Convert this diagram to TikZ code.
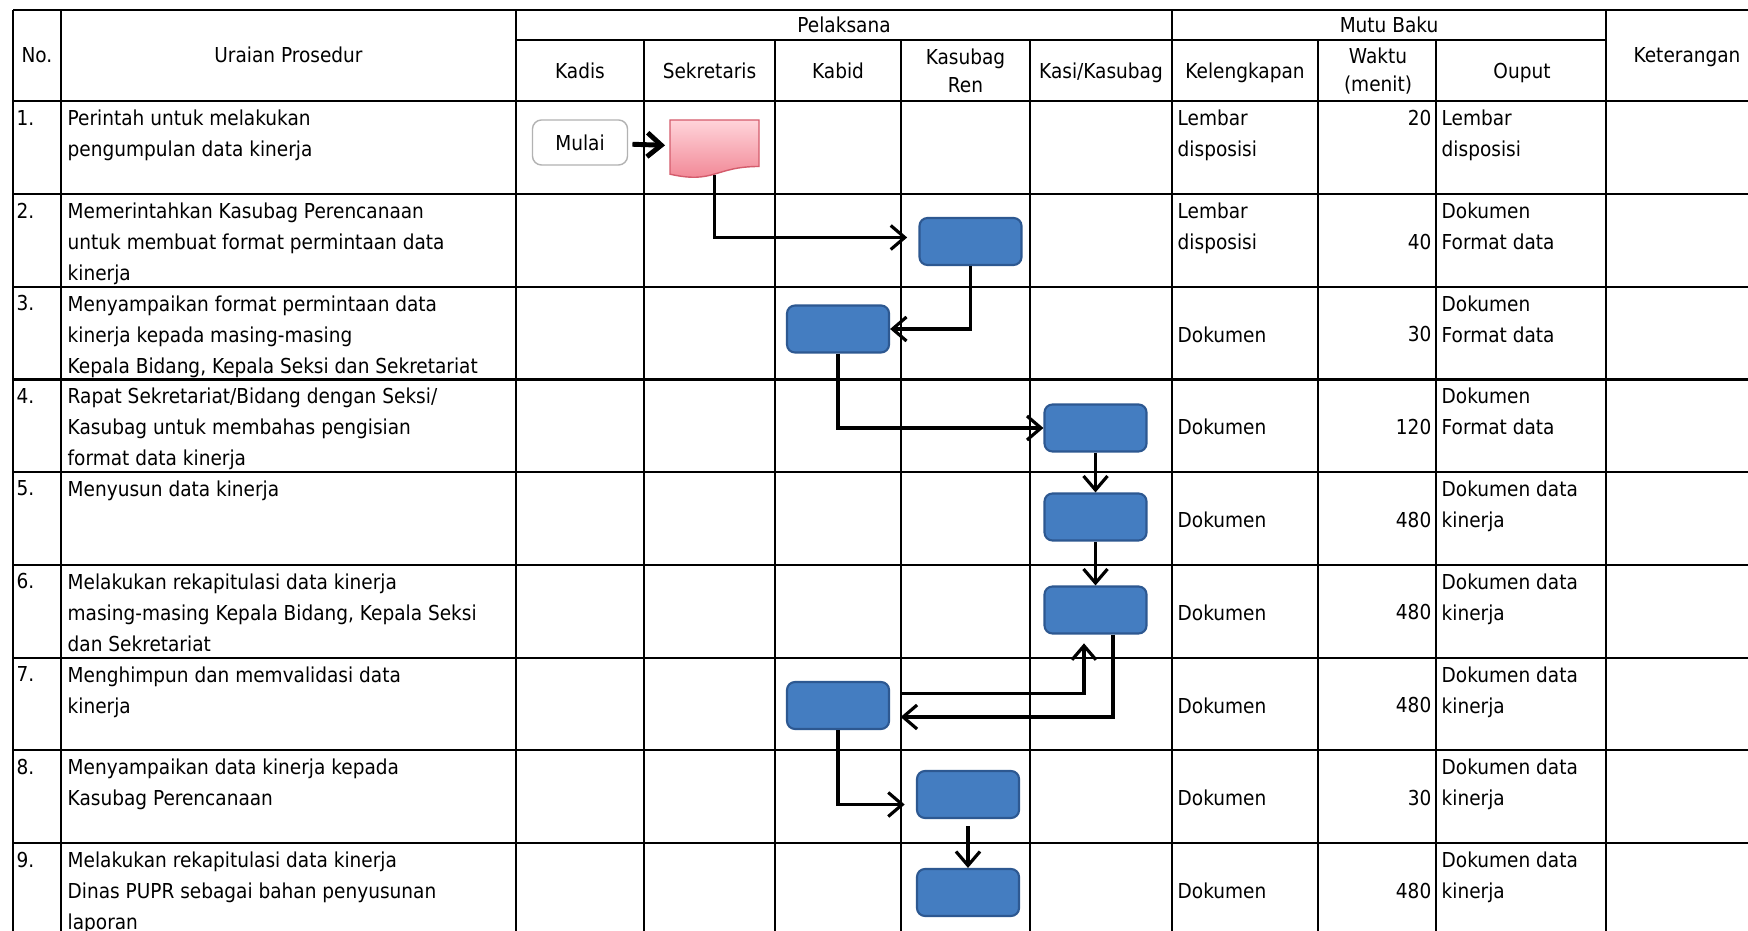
\documentclass[tikz,border=0pt]{standalone}
\usepackage{fontspec}
\setmainfont[FakeStretch=0.9]{DejaVu Sans}
\usetikzlibrary{arrows.meta}
\definecolor{kotakbiru}{RGB}{68,125,193}
\definecolor{tepibiru}{RGB}{45,88,145}
\definecolor{pinkatas}{RGB}{255,212,218}
\definecolor{pinkbawah}{RGB}{240,128,143}
\definecolor{tepipink}{RGB}{212,92,108}

\tikzset{
  isi/.style={anchor=north west,inner sep=0pt,align=left,yshift=2.25pt,
    font=\fontsize{5.85}{8.82}\selectfont},
  angka/.style={isi,anchor=north east,align=right},
  judul/.style={inner sep=0pt,align=center,font=\fontsize{5.85}{8}\selectfont},
  proses/.style={draw=tepibiru,fill=kotakbiru,line width=0.6pt,rounded corners=0.8mm,
    minimum width=1.02cm,minimum height=0.47cm},
  panah/.style={line width=0.9pt,-{Straight Barb[length=1.4mm,width=2.4mm]}},
}

\begin{document}
\begin{tikzpicture}[x=0.01cm,y=-0.01cm]
        \useasboundingbox[fill=white] (0,0) rectangle (1748,931);
        % garis tabel
        \draw[line width=0.6pt] (13,10) -- (1748,10);
        \draw[line width=0.6pt] (516,40) -- (1606,40);
        \draw[line width=0.6pt] (13,101.4) -- (1748,101.4);
        \draw[line width=0.6pt] (13,194.1) -- (1748,194.1);
        \draw[line width=0.6pt] (13,286.8) -- (1748,286.8);
        \draw[line width=0.6pt] (13,379.5) -- (1748,379.5);
        \draw[line width=0.6pt] (13,472.2) -- (1748,472.2);
        \draw[line width=0.6pt] (13,564.9) -- (1748,564.9);
        \draw[line width=0.6pt] (13,657.6) -- (1748,657.6);
        \draw[line width=0.6pt] (13,750.3) -- (1748,750.3);
        \draw[line width=0.6pt] (13,843.0) -- (1748,843.0);
        \draw[line width=0.6pt] (13,10) -- (13,931);
        \draw[line width=0.6pt] (61,10) -- (61,931);
        \draw[line width=0.6pt] (516,10) -- (516,931);
        \draw[line width=0.6pt] (644,40) -- (644,931);
        \draw[line width=0.6pt] (775,40) -- (775,931);
        \draw[line width=0.6pt] (901,40) -- (901,931);
        \draw[line width=0.6pt] (1030,40) -- (1030,931);
        \draw[line width=0.6pt] (1172,10) -- (1172,931);
        \draw[line width=0.6pt] (1318,40) -- (1318,931);
        \draw[line width=0.6pt] (1436,40) -- (1436,931);
        \draw[line width=0.6pt] (1606,10) -- (1606,931);

        % kepala tabel
        \node[judul,anchor=base] (no) at (37,63) {No.};
        \node[judul,anchor=base] (uraian) at (288.5,63) {Uraian Prosedur};
        \node[judul,anchor=base] (pelaksana) at (844,32.5) {Pelaksana};
        \node[judul,anchor=base] (mutu) at (1389,32.5) {Mutu Baku};
        \node[judul,anchor=base] (ket) at (1687,63) {Keterangan};
        \node[judul,anchor=base] (kadis) at (580,78.5) {Kadis};
        \node[judul,anchor=base] (sekretaris) at (709.5,78.5) {Sekretaris};
        \node[judul,anchor=base] (kabid) at (838,78.5) {Kabid};
        \node[judul] (kasubagren) at (965.5,71) {Kasubag\\Ren};
        \node[judul,anchor=base] (kasi) at (1101,78.5) {Kasi/Kasubag};
        \node[judul,anchor=base] (lengkap) at (1245,78.5) {Kelengkapan};
        \node[judul] (waktu) at (1378,71) {Waktu\\(menit)};
        \node[judul,anchor=base] (ouput) at (1522,78.5) {Ouput};

        % isi tabel
        \node[isi] (no1) at (16,117.4) {1.};
        \node[isi] (ur1) at (67,117.4) {Perintah untuk melakukan\\pengumpulan data kinerja};
        \node[isi] (kl1) at (1177,117.4) {Lembar\\disposisi};
        \node[angka] (wk1) at (1432,117.4) {20};
        \node[isi] (ou1) at (1441,117.4) {Lembar\\disposisi};

        \node[isi] (no2) at (16,210.1) {2.};
        \node[isi] (ur2) at (67,210.1) {Memerintahkan Kasubag Perencanaan\\untuk membuat format permintaan data\\kinerja};
        \node[isi] (kl2) at (1177,210.1) {Lembar\\disposisi};
        \node[angka] (wk2) at (1432,241.1) {40};
        \node[isi] (ou2) at (1441,210.1) {Dokumen\\Format data};

        \node[isi] (no3) at (16,302.8) {3.};
        \node[isi] (ur3) at (67,302.8) {Menyampaikan format permintaan data\\kinerja kepada masing-masing\\Kepala Bidang, Kepala Seksi dan Sekretariat};
        \node[isi] (kl3) at (1177,333.8) {Dokumen};
        \node[angka] (wk3) at (1432,333.8) {30};
        \node[isi] (ou3) at (1441,302.8) {Dokumen\\Format data};

        \node[isi] (no4) at (16,395.5) {4.};
        \node[isi] (ur4) at (67,395.5) {Rapat Sekretariat/Bidang dengan Seksi/\\Kasubag untuk membahas pengisian\\format data kinerja};
        \node[isi] (kl4) at (1177,426.5) {Dokumen};
        \node[angka] (wk4) at (1432,426.5) {120};
        \node[isi] (ou4) at (1441,395.5) {Dokumen\\Format data};

        \node[isi] (no5) at (16,488.2) {5.};
        \node[isi] (ur5) at (67,488.2) {Menyusun data kinerja};
        \node[isi] (kl5) at (1177,519.2) {Dokumen};
        \node[angka] (wk5) at (1432,519.2) {480};
        \node[isi] (ou5) at (1441,488.2) {Dokumen data\\kinerja};

        \node[isi] (no6) at (16,580.9) {6.};
        \node[isi] (ur6) at (67,580.9) {Melakukan rekapitulasi data kinerja\\masing-masing Kepala Bidang, Kepala Seksi\\dan Sekretariat};
        \node[isi] (kl6) at (1177,611.9) {Dokumen};
        \node[angka] (wk6) at (1432,611.9) {480};
        \node[isi] (ou6) at (1441,580.9) {Dokumen data\\kinerja};

        \node[isi] (no7) at (16,673.6) {7.};
        \node[isi] (ur7) at (67,673.6) {Menghimpun dan memvalidasi data\\kinerja};
        \node[isi] (kl7) at (1177,704.6) {Dokumen};
        \node[angka] (wk7) at (1432,704.6) {480};
        \node[isi] (ou7) at (1441,673.6) {Dokumen data\\kinerja};

        \node[isi] (no8) at (16,766.3) {8.};
        \node[isi] (ur8) at (67,766.3) {Menyampaikan data kinerja kepada\\Kasubag Perencanaan};
        \node[isi] (kl8) at (1177,797.3) {Dokumen};
        \node[angka] (wk8) at (1432,797.3) {30};
        \node[isi] (ou8) at (1441,766.3) {Dokumen data\\kinerja};

        \node[isi] (no9) at (16,859.0) {9.};
        \node[isi] (ur9) at (67,859.0) {Melakukan rekapitulasi data kinerja\\Dinas PUPR sebagai bahan penyusunan\\laporan};
        \node[isi] (kl9) at (1177,890.0) {Dokumen};
        \node[angka] (wk9) at (1432,890.0) {480};
        \node[isi] (ou9) at (1441,859.0) {Dokumen data\\kinerja};

        % bagan alir
        \node[draw=gray!60,fill=white,rounded corners=0.9mm,minimum width=0.95cm,minimum height=0.45cm,
          inner sep=0pt,font=\fontsize{5.85}{8}\selectfont] (mulai) at (580,142.5) {Mulai};
        \shadedraw[top color=pinkatas,bottom color=pinkbawah,draw=tepipink,line width=0.4pt]
          (670,120) -- (759,120) -- (759,166.5) .. controls (714.5,166.5) and (714.5,184.2) .. (670,174.2) -- cycle;
        \node[minimum width=0.89cm,minimum height=0.54cm,inner sep=0pt] (dok) at (714.5,147) {};
        \node[proses] (ren1) at (970.5,241.5) {};
        \node[proses] (kabid1) at (838,329) {};
        \node[proses] (kasi1) at (1095.5,428) {};
        \node[proses] (kasi2) at (1095.5,517) {};
        \node[proses] (kasi3) at (1095.5,610) {};
        \node[proses] (kabid2) at (838,705.5) {};
        \node[proses] (ren2) at (968,794.5) {};
        \node[proses] (ren3) at (968,892.5) {};

        \draw[panah,line width=1.4pt,shorten <=1.2pt,shorten >=1.2pt] (mulai) -- (dok);
        \draw[panah,shorten >=3.2pt] (dok.south) |- ([yshift=0.04cm]ren1.west);
        \draw[panah] (ren1.south) |- (kabid1.east);
        \draw[panah] (kabid1.south) |- (kasi1.west);
        \draw[panah] (kasi1) -- (kasi2);
        \draw[panah] (kasi2) -- (kasi3);
        \draw[panah,shorten >=3pt] ([xshift=0.175cm]kasi3.south) |- ([yshift=-0.115cm]kabid2.east);
        \draw[panah,shorten <=3pt,shorten >=2.5pt] ([yshift=0.12cm]kabid2.east) -| ([xshift=-0.115cm]kasi3.south);
        \draw[panah,shorten >=3.2pt] (kabid2.south) |- ([yshift=-0.1cm]ren2.west);
        \draw[panah,shorten <=2pt] (ren2) -- (ren3);
\end{tikzpicture}
\end{document}
